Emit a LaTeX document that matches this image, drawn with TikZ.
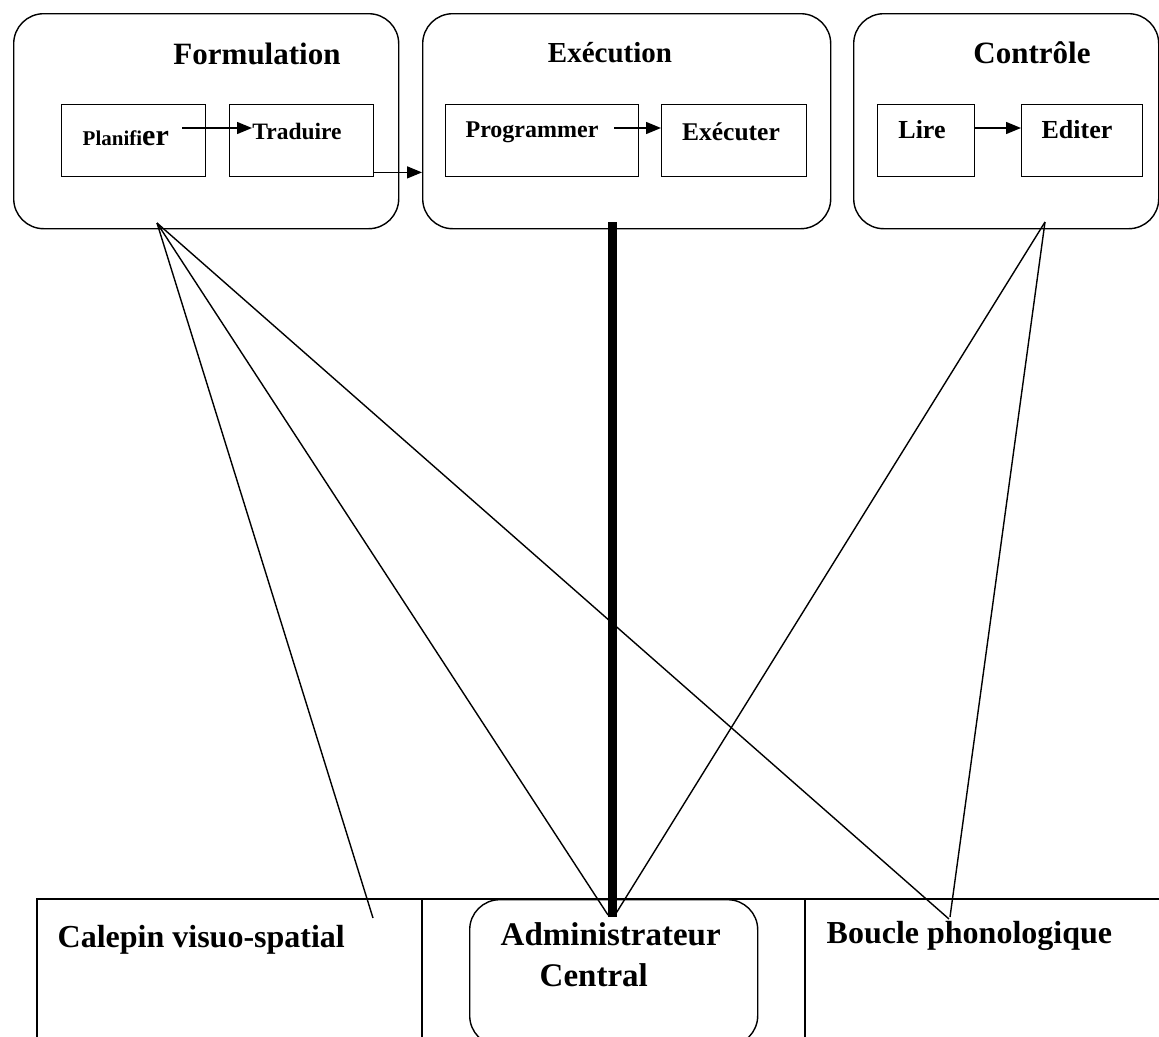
\documentclass[tikz,border=0pt]{standalone}
\usepackage{fontspec}
\setmainfont{Liberation Serif}
\usetikzlibrary{arrows.meta,calc}
\begin{document}
\begin{tikzpicture}[x=1pt,y=-1pt,line width=1.4pt,
  outer/.style={draw,rounded corners=30pt,minimum height=215pt,inner sep=0pt,anchor=north west},
  inner/.style={draw,minimum height=72pt,inner sep=0pt,anchor=north west},
  lbl/.style={anchor=base,inner sep=0pt,font=\bfseries\fontsize{#1}{#1}\selectfont},
  arr/.style={-{Triangle[length=15pt,width=12pt]}},
  link/.style={line width=1.4pt}]
\useasboundingbox (0,0) rectangle (1159,1036);
\clip (0,0) rectangle (1159,1036);

% top group boxes
\node[outer,minimum width=385pt] (form) at (13,13) {};
\node[outer,minimum width=408pt] (exec) at (422,13) {};
\node[outer,minimum width=305pt] (ctrl) at (853,13) {};

\node[inner,minimum width=144pt] (plan) at (61,104) {};
\node[inner,minimum width=144pt] (trad) at (229,104) {};
\node[inner,minimum width=193pt] (prog) at (445,104) {};
\node[inner,minimum width=145pt] (exe) at (661,104) {};
\node[inner,minimum width=97pt] (lire) at (877,104) {};
\node[inner,minimum width=121pt] (edit) at (1021,104) {};

% titles
\node[lbl=31] (tform) at (257,64) {Formulation};
\node[lbl=29] (texec) at (610,62) {Exécution};
\node[lbl=31] (tctrl) at (1032,63) {Contrôle};

% inner labels
\node[anchor=base west,inner sep=0pt,font=\bfseries] (tplan) at (82,145)
  {{\fontsize{21}{21}\selectfont Planifi}{\fontsize{30}{30}\selectfont er}};
\node[lbl=23.5] (ttrad) at (297,139) {Traduire};
\node[lbl=24] (tprog) at (532,137) {Programmer};
\node[lbl=25.5] (texe) at (731,140) {Exécuter};
\node[lbl=26] (tlire) at (922,138) {Lire};
\node[lbl=26] (tedit) at (1077,138) {Editer};

% arrows inside the groups
\draw[arr] ([xshift=-24pt,yshift=-24pt]plan.north east) -- ([xshift=23pt,yshift=-24pt]trad.north west);
\draw[arr] ([xshift=-25pt,yshift=-24pt]prog.north east) -- ([yshift=-24pt]exe.north west);
\draw[arr] ([yshift=-24pt]lire.north east) -- ([yshift=-24pt]edit.north west);
\draw[arr] ([yshift=5pt]trad.south east) -- ([yshift=5pt]trad.south east -| exec.west);

% bottom table
\coordinate (tl) at (37,899);
\coordinate (tr) at (1200,899);
\coordinate (bl) at (37,1100);
\coordinate (d1t) at (422,899);
\coordinate (d1b) at (422,1100);
\coordinate (d2t) at (805,899);
\coordinate (d2b) at (805,1100);
\draw (bl) -- (tl) -- (tr);
\draw (d1t) -- (d1b);
\draw (d2t) -- (d2b);
\node[draw,rounded corners=30pt,minimum width=288pt,minimum height=146pt,inner sep=0pt,anchor=north west] (admin) at (469,899) {};

\node[lbl=32,anchor=base west] (tcal) at (57,947) {Calepin visuo-spatial};
\node[lbl=32,anchor=base west] (tbou) at (826,943) {Boucle phonologique};
\node[lbl=33,anchor=base west] (tadm1) at (500,945) {Administrateur};
\node[lbl=33,anchor=base west] (tadm2) at (539,986) {Central};

% connectors
\coordinate (fA) at (157,223);
\coordinate (cA) at (1045,222);
\coordinate (eA) at (612,222);
\coordinate (calE) at (373,918);
\coordinate (admL) at (608,915);
\coordinate (admR) at (615,915);
\coordinate (bouL) at (949,919);
\coordinate (bouR) at (950,917);
\coordinate (admT) at (612,917);

\draw[link] (fA) -- (calE);
\draw[link] (fA) -- (admL);
\draw[link] (fA) -- (bouL);
\draw[link] (cA) -- (admR);
\draw[link] (cA) -- (bouR);
\draw[line width=9pt] (eA) -- (admT);
\end{tikzpicture}
\end{document}
